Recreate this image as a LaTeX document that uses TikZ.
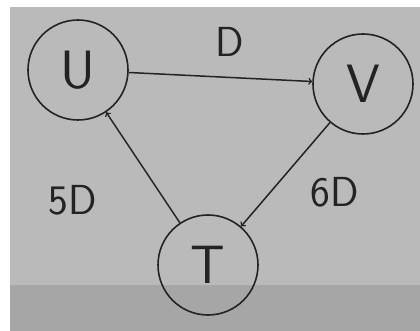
\documentclass[tikz,border=0pt]{standalone}
\usepackage{tikz}
\usetikzlibrary{arrows}
\definecolor{paper}{RGB}{186,186,186}
\definecolor{paperdark}{RGB}{166,166,166}
\definecolor{ink}{RGB}{35,35,35}
\begin{document}
\begin{tikzpicture}[x=1pt,y=-1pt]
\tikzset{state/.style={circle,draw=ink,line width=1.6pt,minimum size=100pt,inner sep=0pt,font=\fontsize{54}{56}\selectfont\sffamily,text=ink},
weight/.style={font=\fontsize{42}{44}\selectfont\sffamily,text=ink},
link/.style={line width=1.5pt,draw=ink,->,>=to}}
\useasboundingbox (0,0) rectangle (420,331);
\fill[white] (0,0) rectangle (420,331);
\fill[paper] (10,7) rectangle (420,331);
\fill[paperdark] (10,285) rectangle (420,331);

\node[state] (u) at (78,70) {U};
\node[state] (v) at (363,84) {V};
\node[state] (t) at (208,265) {T};

\draw[link] (u) -- (v);
\draw[link] (v) -- (t);
\draw[link] (t) -- (u);
\node[weight] (d) at (230,42) {D};
\node[weight] (fived) at (73,200) {5D};
\node[weight] (sixd) at (335,192) {6D};
\end{tikzpicture}
\end{document}
